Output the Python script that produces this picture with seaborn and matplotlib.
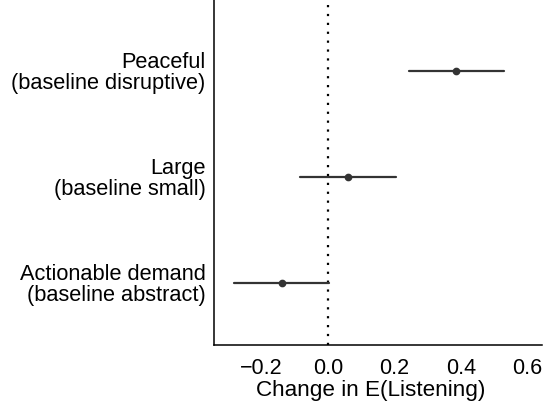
import pandas as pd
import matplotlib.pyplot as plt
import seaborn as sns

sns.set_style("white")
plt.rcParams['font.family'] = ['Liberation Sans', 'DejaVu Sans']

labels = ["Peaceful\n(baseline disruptive)",
          "Large\n(baseline small)",
          "Actionable demand\n(baseline abstract)"]
estimate = [0.385, 0.061, -0.139]
lower = [0.243, -0.083, -0.283]
upper = [0.529, 0.205, 0.003]

# three rows per term: the median is the estimate, min/max give the interval
rows = []
for lab, lo, est, hi in zip(labels, lower, estimate, upper):
    for v in (lo, est, hi):
        rows.append({"term": lab, "value": v})
df = pd.DataFrame(rows)

fig = plt.figure(figsize=(5.5, 4.07), dpi=100)
ax = fig.add_axes([0.389, 0.152, 0.596, 0.848])

ax.axvline(0, color="black", linestyle=(0, (1, 3)), linewidth=1.6, zorder=0)
sns.pointplot(data=df, x="value", y="term", order=labels,
              estimator="median", errorbar=lambda x: (x.min(), x.max()),
              linestyle="none", color="#333333", markersize=3.5,
              err_kws={"linewidth": 1.6}, ax=ax)

ax.set_xlim(-0.343, 0.644)
ax.set_ylim(2.588, -0.667)
ax.set_xticks([-0.2, 0.0, 0.2, 0.4, 0.6])
ax.set_xticklabels(["\u22120.2", "0.0", "0.2", "0.4", "0.6"])
ax.set_xlabel("Change in E(Listening)", fontsize=16.2, color="black")
ax.xaxis.set_label_coords(0.478, -0.1)
ax.set_ylabel("")
ax.tick_params(axis="x", length=0, labelsize=15.5, labelcolor="black", pad=9)
ax.tick_params(axis="y", length=0, labelsize=15.7, labelcolor="black", pad=6)
for t in ax.get_yticklabels():
    t.set_linespacing(1.0)
sns.despine(ax=ax)
for s in ("left", "bottom"):
    ax.spines[s].set_color("black")
    ax.spines[s].set_linewidth(1.1)

fig.savefig("out.png", dpi=100)
